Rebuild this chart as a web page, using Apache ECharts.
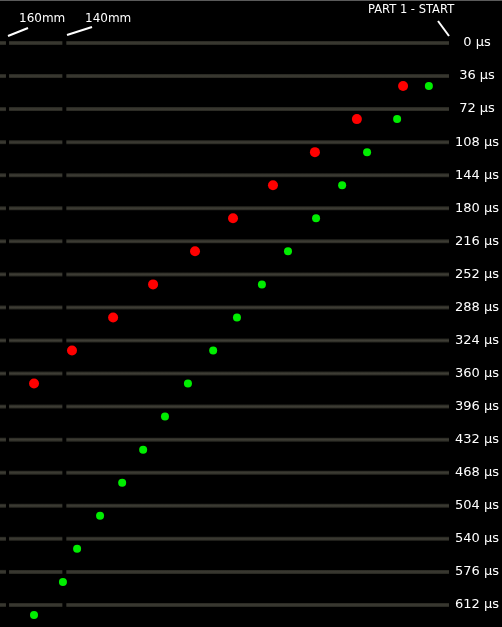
<!DOCTYPE html>
<html>
<head>
<meta charset="utf-8">
<script src="https://cdn.jsdelivr.net/npm/echarts@6/dist/echarts.min.js"></script>
<style>
html, body { margin: 0; padding: 0; background: #000; }
#chart { width: 502px; height: 627px; }
</style>
</head>
<body>
<div id="chart"></div>
<script>
// frame times (µs), one film strip per frame
var times = [0, 36, 72, 108, 144, 180, 216, 252, 288, 324, 360, 396, 432, 468, 504, 540, 576, 612];

// red front position (mm) per frame
var redTimes = [36, 72, 108, 144, 180, 216, 252, 288, 324, 360];
var redPos = [20.5, 36.8, 51.6, 66.4, 80.5, 93.9, 108.7, 122.8, 137.3, 150.7];

// green front position (mm) per frame
var greenTimes = [36, 72, 108, 144, 180, 216, 252, 288, 324, 360, 396, 432, 468, 504, 540, 576, 612];
var greenPos = [11.4, 22.6, 33.2, 42.0, 51.2, 61.1, 70.3, 79.1, 87.5, 96.4, 104.5, 112.2, 119.6, 127.4, 135.5, 140.5, 150.7];

// strip segments, mm (gaps at the 160mm and 140mm marks)
var stripSegs = [[162.7, 160.6], [159.5, 140.7], [139.3, 4.3]];

var chart = echarts.init(document.getElementById('chart'));

function pairs(xs, ts) {
    var out = [];
    for (var i = 0; i < xs.length; i++) out.push([xs[i], ts[i]]);
    return out;
}

var option = {
    backgroundColor: '#000',
    animation: false,
    grid: { left: 0, right: 53, top: 0, bottom: 0 },
    xAxis: {
        type: 'value',
        inverse: true,
        min: 4.3,
        max: 162.7,
        show: false
    },
    yAxis: {
        type: 'value',
        inverse: true,
        position: 'right',
        min: -46.8,
        max: 636,
        splitLine: { show: false },
        axisLine: { show: false },
        axisTick: { show: false },
        axisLabel: {
            customValues: times,
            margin: 28,
            align: 'center',
            color: '#fff',
            fontFamily: 'DejaVu Sans',
            fontSize: 13,
            formatter: '{value} µs'
        }
    },
    series: [
        {
            // film strips
            type: 'custom',
            silent: true,
            data: times.map(function (t) { return [t]; }),
            renderItem: function (params, api) {
                var t = api.value(0);
                var kids = stripSegs.map(function (s) {
                    var a = api.coord([s[0], t]);
                    var b = api.coord([s[1], t]);
                    var x0 = Math.min(a[0], b[0]);
                    return {
                        type: 'rect',
                        shape: { x: x0, y: a[1] - 2, width: Math.abs(b[0] - a[0]), height: 4 },
                        style: {
                            fill: new echarts.graphic.LinearGradient(0, 0, 0, 1, [
                                { offset: 0, color: '#25251f' },
                                { offset: 0.5, color: '#3e3d35' },
                                { offset: 1, color: '#25251f' }
                            ])
                        }
                    };
                });
                return { type: 'group', children: kids };
            }
        },
        {
            type: 'scatter',
            symbolSize: 10,
            symbolOffset: [0, 10],
            itemStyle: { color: '#ff0000', opacity: 1 },
            data: pairs(redPos, redTimes)
        },
        {
            type: 'scatter',
            symbolSize: 8,
            symbolOffset: [0, 10],
            itemStyle: { color: '#00ee00', opacity: 1 },
            data: pairs(greenPos, greenTimes)
        }
    ],
    graphic: [
        { type: 'line', shape: { x1: 0, y1: 0.5, x2: 502, y2: 0.5 }, style: { stroke: '#5a5a5a', lineWidth: 1 } },
        { type: 'text', left: 19, top: 13, style: { text: '160mm', fill: '#fff', font: '12px "DejaVu Sans"' } },
        { type: 'line', shape: { x1: 8, y1: 36, x2: 28, y2: 28 }, style: { stroke: '#fff', lineWidth: 2 } },
        { type: 'text', left: 85, top: 13, style: { text: '140mm', fill: '#fff', font: '12px "DejaVu Sans"' } },
        { type: 'line', shape: { x1: 67, y1: 35, x2: 92, y2: 27 }, style: { stroke: '#fff', lineWidth: 2 } },
        { type: 'text', left: 368, top: 4, style: { text: 'PART 1 - START', fill: '#fff', font: '11.5px "DejaVu Sans"' } },
        { type: 'line', shape: { x1: 438, y1: 21, x2: 449, y2: 36 }, style: { stroke: '#fff', lineWidth: 2 } }
    ]
};

chart.setOption(option);
</script>
</body>
</html>
